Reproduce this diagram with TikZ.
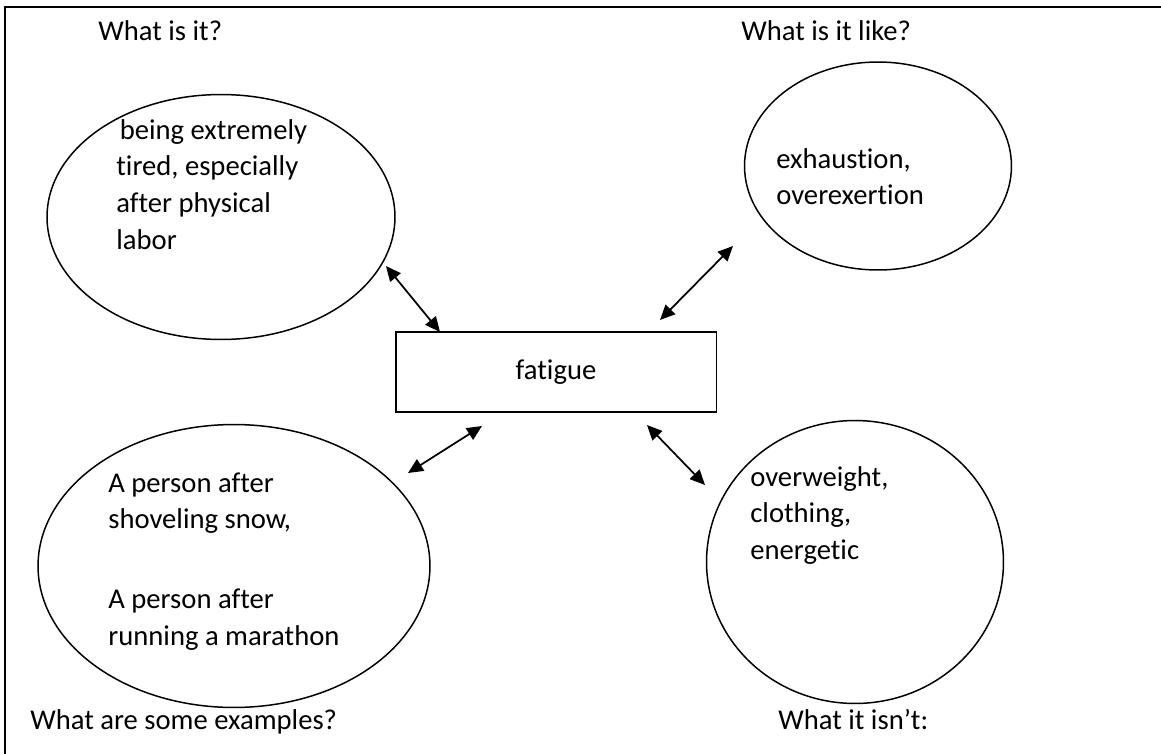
\documentclass[tikz,border=0pt]{standalone}
\usepackage{fontspec}
\setmainfont{Carlito}[Ligatures={TeX,NoCommon}]
\usetikzlibrary{shapes.geometric,arrows.meta}
\tikzset{
  idea oval/.style={
    ellipse, draw=black, line width=0.85pt, inner sep=0pt
  },
  word box/.style={
    rectangle, draw=black, line width=1.1pt, inner sep=0pt,
    minimum width=6.42cm, minimum height=1.6cm,
    font=\fontsize{16.3}{21}\selectfont
  },
  oval text/.style={
    anchor=base west, inner sep=0pt, font=\fontsize{16.3}{21}\selectfont
  },
  corner label/.style={
    anchor=base west, inner sep=0pt, font=\fontsize{16.3}{21}\selectfont
  },
  link arrow/.style={
    draw=black, line width=1pt,
    arrows={Triangle[length=0.3cm,width=0.27cm]-Triangle[length=0.3cm,width=0.27cm]}
  }
}

\begin{document}
\begin{tikzpicture}[x=0.02cm, y=-0.02cm]
\useasboundingbox (0,0) rectangle (1161,754);
% ------------------------------------------------
% frame and the four questions
% ------------------------------------------------
\draw[line width=1.1pt] (5,754) -- (5,7) -- (1161,7);
\node[corner label] (qWhat)  at (98,40)   {What is it?};
\node[corner label] (qLike)  at (741,40)  {What is it like?};
\node[corner label] (qEx)    at (30,729)  {What are some examples?};
\node[corner label] (qNot)   at (778,729) {What it isn’t:};

% ------------------------------------------------
% centre word
% ------------------------------------------------
\node[word box] (fatigue) at (556,372) {fatigue};

% ------------------------------------------------
% top left: definition
% ------------------------------------------------
\node[idea oval, minimum width=6.96cm, minimum height=4.9cm] (defOval) at (221,217) {};
\node[oval text] (defText) at (116,139) {\begin{tabular}[t]{@{}l@{}}
  \hspace*{0.12em}being extremely\\
  tired, especially\\
  after physical\\
  labor
\end{tabular}};

% ------------------------------------------------
% top right: what it is like
% ------------------------------------------------
\node[idea oval, minimum width=5.34cm, minimum height=4.16cm] (likeOval) at (878,166) {};
\node[oval text] (likeText) at (776,168) {\begin{tabular}[t]{@{}l@{}}
  exhaustion,\\
  overexertion
\end{tabular}};

% ------------------------------------------------
% bottom left: examples
% ------------------------------------------------
\node[idea oval, minimum width=7.84cm, minimum height=5.66cm] (exOval) at (234,566) {};
\node[oval text] (exText) at (108,492) {\begin{tabular}[t]{@{}l@{}}
  A person after\\
  shoveling snow,\\[0.86cm]
  A person after\\
  running a marathon
\end{tabular}};

% ------------------------------------------------
% bottom right: what it is not
% ------------------------------------------------
\node[idea oval, minimum width=5.94cm, minimum height=5.66cm] (notOval) at (855,562) {};
\node[oval text] (notText) at (750,486) {\begin{tabular}[t]{@{}l@{}}
  overweight,\\
  clothing,\\
  energetic
\end{tabular}};

% ------------------------------------------------
% double arrows between the ovals and the box
% ------------------------------------------------
\coordinate (defEnd)  at (386,266);
\coordinate (boxNW)   at (440,332);
\coordinate (likeEnd) at (733,246);
\coordinate (boxNE)   at (660,320);
\coordinate (exEnd)   at (408,473);
\coordinate (boxSW)   at (482,426);
\coordinate (notEnd)  at (705,485);
\coordinate (boxSE)   at (647,425);

\draw[link arrow] (defEnd)  -- (boxNW);
\draw[link arrow] (likeEnd) -- (boxNE);
\draw[link arrow] (exEnd)   -- (boxSW);
\draw[link arrow] (notEnd)  -- (boxSE);
\end{tikzpicture}
\end{document}
